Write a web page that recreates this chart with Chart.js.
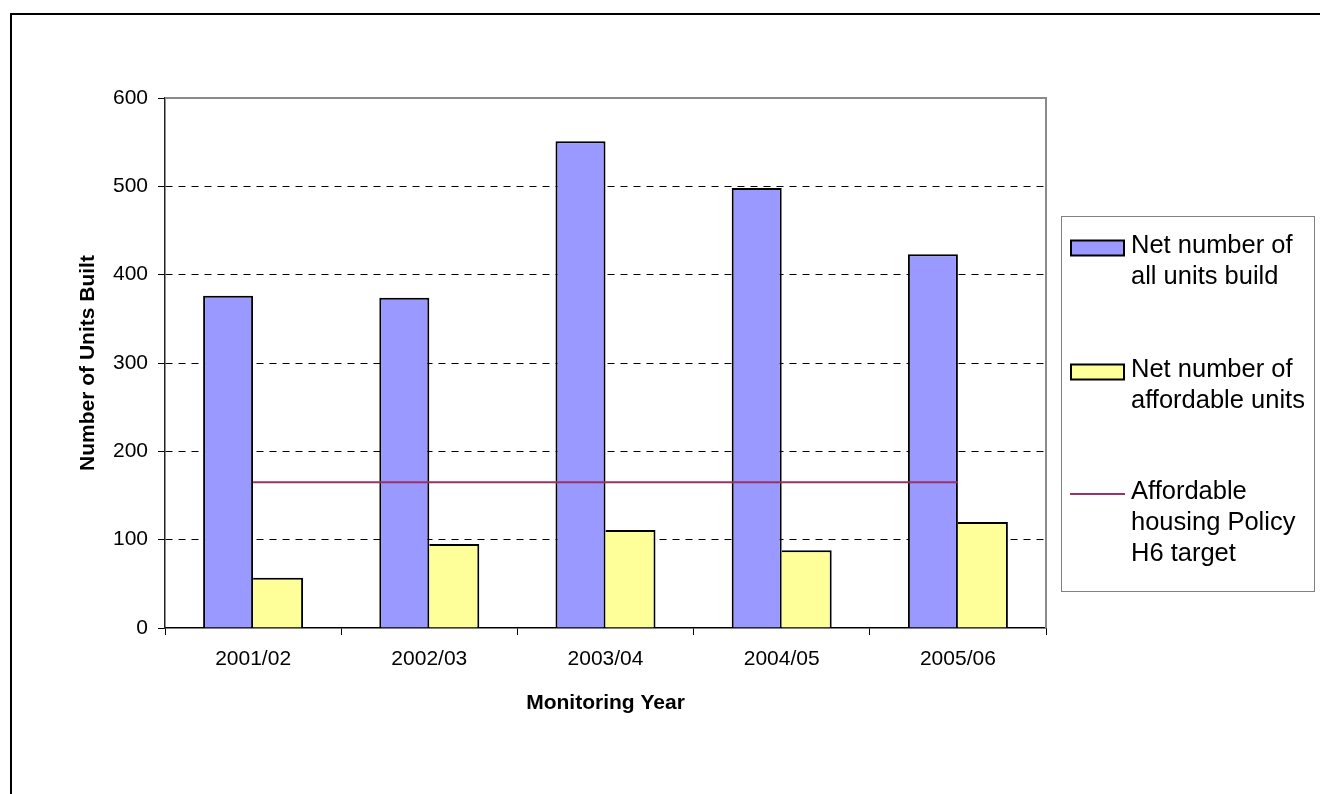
<!DOCTYPE html>
<html>
<head>
<meta charset="utf-8">
<script src="https://cdn.jsdelivr.net/npm/chart.js@4/dist/chart.umd.min.js"></script>
<style>
  html, body { margin: 0; padding: 0; background: #fff; }
  #wrap { position: relative; width: 1320px; height: 794px; }
</style>
</head>
<body>
<div id="wrap"><canvas id="units"></canvas></div>
<script>
const years = ['2001/02', '2002/03', '2003/04', '2004/05', '2005/06']
const allUnits = [376, 374, 551, 498, 423]
const affordableUnits = [57, 95, 111, 88, 120]
const policyTarget = [165, 165, 165, 165, 165]
const yTicks = [0, 100, 200, 300, 400, 500, 600]

const legendLines = [
  ['Net number of', 'all units build'],
  ['Net number of', 'affordable units'],
  ['Affordable', 'housing Policy', 'H6 target']
]

const FONT = "'Liberation Sans', Arial, sans-serif"

// outer frame, plot frame and the boxed legend on the right
const decorations = {
  id: 'decorations',
  beforeDatasetsDraw (chart) {
    const { ctx, chartArea: a } = chart
    ctx.save()
    ctx.strokeStyle = '#8a8a8a'
    ctx.lineWidth = 2
    ctx.beginPath()
    ctx.moveTo(a.left, a.top)
    ctx.lineTo(a.right, a.top)
    ctx.lineTo(a.right, a.bottom)
    ctx.stroke()
    ctx.restore()
  },
  afterDraw (chart) {
    const { ctx } = chart
    ctx.save()
    ctx.strokeStyle = '#000'
    ctx.lineWidth = 2
    ctx.beginPath()
    ctx.moveTo(11, 794)
    ctx.lineTo(11, 14)
    ctx.lineTo(1320, 14)
    ctx.stroke()

    // legend box
    ctx.strokeStyle = '#808080'
    ctx.lineWidth = 1
    ctx.strokeRect(1061.5, 216.5, 253, 375)

    const ds = chart.data.datasets
    const swatchY = [248, 372, 494]
    const firstBase = [253, 377, 499]
    ctx.font = '25.5px ' + FONT
    ctx.textBaseline = 'alphabetic'
    ctx.textAlign = 'left'
    ds.forEach((d, i) => {
      const y = swatchY[i]
      if (d.type === 'line') {
        ctx.strokeStyle = d.borderColor
        ctx.lineWidth = 2
        ctx.beginPath()
        ctx.moveTo(1070, y)
        ctx.lineTo(1125, y)
        ctx.stroke()
      } else {
        ctx.fillStyle = d.backgroundColor
        ctx.fillRect(1071, y - 7.5, 53, 15)
        ctx.strokeStyle = '#000'
        ctx.lineWidth = 2
        ctx.strokeRect(1071, y - 7.5, 53, 15)
      }
      ctx.fillStyle = '#000'
      legendLines[i].forEach((t, j) => {
        ctx.fillText(t, 1131, firstBase[i] + j * 31)
      })
    })
    ctx.restore()
  }
}

new Chart(document.getElementById('units').getContext('2d'), {
  type: 'bar',
  data: {
    labels: years,
    datasets: [
      {
        label: legendLines[0].join(' '),
        data: allUnits,
        backgroundColor: '#9999ff',
        borderColor: '#000',
        borderWidth: { top: 2, left: 2, right: 2, bottom: 0 },
        categoryPercentage: 0.5675,
        barPercentage: 1,
        order: 1
      },
      {
        label: legendLines[1].join(' '),
        data: affordableUnits,
        backgroundColor: '#ffff99',
        borderColor: '#000',
        // the blue bar's right edge already draws the shared side
        borderWidth: { top: 2, left: 0, right: 2, bottom: 0 },
        categoryPercentage: 0.5675,
        barPercentage: 1,
        order: 1
      },
      {
        type: 'line',
        label: legendLines[2].join(' '),
        data: policyTarget,
        borderColor: '#993366',
        borderWidth: 2,
        pointRadius: 0,
        fill: false,
        order: 0
      }
    ]
  },
  options: {
    responsive: true,
    maintainAspectRatio: false,
    animation: false,
    layout: {
      padding: { left: 72, right: 274, top: 98, bottom: 74 }
    },
    scales: {
      x: {
        afterFit: (scale) => { scale.height = 92 },
        grid: {
          offset: true,
          drawOnChartArea: false,
          tickLength: 7,
          color: '#000'
        },
        border: { color: '#000', width: 1.5 },
        ticks: {
          color: '#000',
          padding: 12,
          maxRotation: 0,
          font: { family: FONT, size: 21 }
        },
        title: {
          display: true,
          text: 'Monitoring Year',
          color: '#000',
          font: { family: FONT, size: 21, weight: 'bold' }
        }
      },
      y: {
        min: 0,
        max: 600,
        afterFit: (scale) => { scale.width = 93 },
        afterBuildTicks: (scale) => {
          scale.ticks = yTicks.map(v => ({ value: v }))
        },
        grid: {
          color: (c) => (c.tick && (c.tick.value === 0 || c.tick.value === 600)) ? 'rgba(0,0,0,0)' : '#000',
          tickColor: '#000',
          tickLength: 7,
          tickBorderDash: []
        },
        border: { color: '#222', width: 1.5, dash: [7, 6] },
        ticks: {
          color: '#000',
          padding: 10,
          font: { family: FONT, size: 21 }
        },
        title: {
          display: true,
          text: 'Number of Units Built',
          color: '#000',
          font: { family: FONT, size: 21, weight: 'bold' }
        }
      }
    },
    plugins: {
      legend: { display: false },
      tooltip: { enabled: false },
      title: { display: false }
    }
  },
  plugins: [decorations]
})
</script>
</body>
</html>
